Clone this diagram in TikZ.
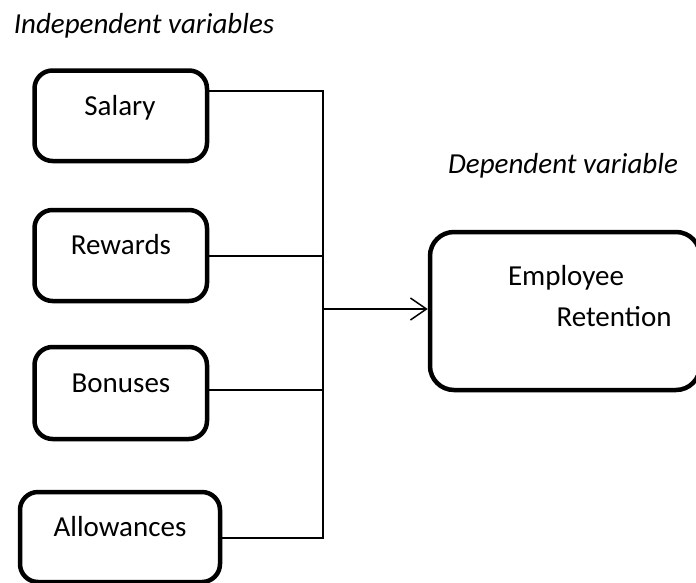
\documentclass[tikz,border=0pt]{standalone}
\usepackage{fontspec}
\setmainfont{Carlito}
\usetikzlibrary{arrows.meta}
\begin{document}
\begin{tikzpicture}[x=1pt,y=-1pt,
  box/.style={draw, line width=4.5pt, rounded corners=18pt, inner sep=0pt},
  conn/.style={line width=1.5pt},
  lbl/.style={font=\fontsize{29}{34}\selectfont, inner sep=0pt, anchor=base},
  head/.style={font=\fontsize{29}{34}\selectfont\itshape, inner sep=0pt, anchor=base}]
\useasboundingbox (0,0) rectangle (696,582);
\clip (0,0) rectangle (696,582);

% headings
\node[head] (indep) at (144,33) {Independent variables};
\node[head] (dep) at (563,173) {Dependent variable};

% independent variable boxes
\node[box, minimum width=172.5pt, minimum height=90.5pt] (salary) at (120.75,115.75) {};
\node[box, minimum width=172.5pt, minimum height=91pt] (rewards) at (120.75,255.5) {};
\node[box, minimum width=172.5pt, minimum height=92pt] (bonuses) at (120.75,393) {};
\node[box, minimum width=200pt, minimum height=90pt] (allow) at (120,537) {};

\node[lbl] (tsalary) at (120,115) {Salary};
\node[lbl] (trewards) at (121,254) {Rewards};
\node[lbl] (tbonuses) at (121,392) {Bonuses};
\node[lbl] (tallow) at (120,536) {Allowances};

% dependent variable box
\node[box, rounded corners=24pt, minimum width=270pt, minimum height=158pt] (emp) at (565,311) {};
\node[lbl] (temp1) at (566,285) {Employee};
\node[lbl] (temp2) at (614,326) {Retention};

% junction points on the collecting line
\coordinate (j1) at (323,91);
\coordinate (j2) at (323,256);
\coordinate (j3) at (323,390);
\coordinate (j4) at (323,538);
\coordinate (ja) at (323,309);

\draw[conn] (salary.east |- j1) -- (j1) -- (j4) -- (allow.east |- j4);
\draw[conn] (rewards.east |- j2) -- (j2);
\draw[conn] (bonuses.east |- j3) -- (j3);
\draw[conn, -{Straight Barb[length=16pt,width=22pt]}] (ja) -- (emp.west |- ja);
\end{tikzpicture}
\end{document}
